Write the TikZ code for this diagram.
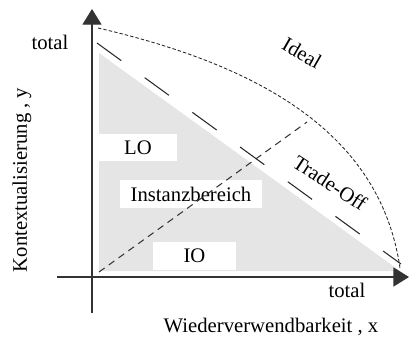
\documentclass[tikz,border=0pt]{standalone}
\usepackage{fontspec}
\setmainfont{Liberation Serif}
\usetikzlibrary{arrows.meta}

\begin{document}
\begin{tikzpicture}[x=0.58pt, y=-0.58pt, font=\fontsize{12}{14}\selectfont,
	>={Triangle[length=9pt,width=11pt]},
	axis/.style={draw=black!80, line width=0.6pt},
	region/.style={fill=black!10},
	box/.style={fill=white, inner sep=0pt, minimum height=16pt},
	ideal/.style={draw=black!85, line width=0.5pt, dash pattern=on 2pt off 1.2pt},
	tradeoff/.style={draw=black!85, line width=0.6pt, dash pattern=on 17.4pt off 16.8pt},
	instance/.style={draw=black!80, line width=0.6pt, dash pattern=on 4pt off 3pt}]
	\useasboundingbox (0,0) rectangle (409,339);

	% Coordinates {axes, triangle, curves}
	\coordinate (ybot)  at (92,313);
	\coordinate (ytop)  at (92,9);
	\coordinate (xbeg)  at (57,277);
	\coordinate (xend)  at (409,277);
	\coordinate (t1)    at (99,53);
	\coordinate (t2)    at (99,271);
	\coordinate (t3)    at (400,271);
	\coordinate (i1)    at (98,28);
	\coordinate (i2)    at (400,268);
	\coordinate (d1)    at (97,43);
	\coordinate (d2)    at (401,264);
	\coordinate (o1)    at (99,272);
	\coordinate (o2)    at (307,122);

	% Regions
	\fill [region] (t1) -- (t2) -- (t3) -- cycle;
	\node [box, minimum width=45pt] (lo)   at (138,147.5) {LO};
	\node [box, minimum width=82pt] (inst) at (191,194)   {Instanzbereich};
	\node [box, minimum width=48pt] (io)   at (194.5,256) {IO};

	% Curves
	\draw [ideal]    (i1) .. controls (280,70) and (382,145) .. (i2);
	\draw [tradeoff] (d1) -- (d2);
	\draw [instance] (o1) -- (o2);

	% Axes
	\draw [axis,->] (ybot) -- (ytop);
	\draw [axis,->] (xbeg) -- (xend);

	% Labels
	\node (ytotal) at (50,42)  {total};
	\node (xtotal) at (347,290) {total};
	\node [rotate=-30] (lideal) at (302,53)  {Ideal};
	\node [rotate=-33] (ltrade) at (330,183) {Trade-Off};
	\node [rotate=90]  (ylabel) at (22,180)  {Kontextualisierung , y};
	\node              (xlabel) at (271,327) {Wiederverwendbarkeit , x};
\end{tikzpicture}
\end{document}
